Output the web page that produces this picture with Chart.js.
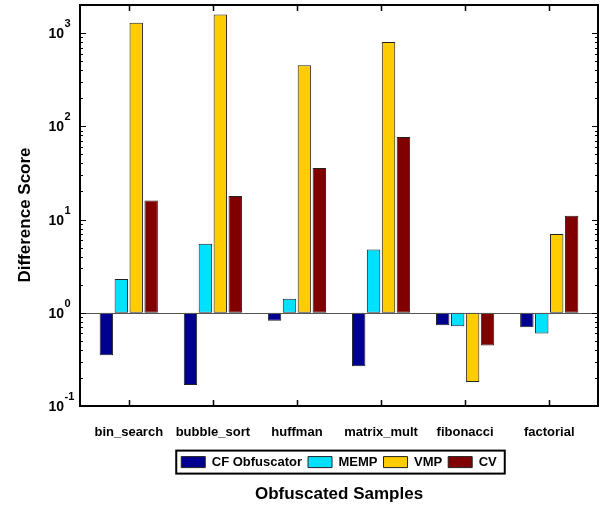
<!DOCTYPE html>
<html>
<head>
<meta charset="utf-8">
<script src="https://cdn.jsdelivr.net/npm/chart.js@4"></script>
<style>
  html, body { margin: 0; padding: 0; background: #fff; }
  #wrap { width: 605px; height: 508px; }
</style>
</head>
<body>
<div id="wrap"><canvas id="chart"></canvas></div>
<script>
const categories = ['bin_search', 'bubble_sort', 'huffman', 'matrix_mult', 'fibonacci', 'factorial'];
const cfObfuscator = [0.35, 0.168, 0.82, 0.267, 0.736, 0.70];
const memp = [2.3, 5.5, 1.41, 4.76, 0.718, 0.60];
const vmp = [1290, 1585, 453, 800, 0.181, 7.0];
const cv = [16, 17.9, 35.6, 76.7, 0.445, 11.0];
const yTickExponents = [-1, 0, 1, 2, 3];

const seriesNames = ['CF Obfuscator', 'MEMP', 'VMP', 'CV'];
const seriesValues = [cfObfuscator, memp, vmp, cv];
const seriesColors = ['#000090', '#00E0FF', '#FFCC00', '#800000'];

const FONT = '"Liberation Sans", Arial, sans-serif';

// frame, inward ticks, 10^n labels, y title, legend box
const axisDecor = {
  id: 'axisDecor',
  afterDraw(chart) {
    const { ctx, chartArea, scales } = chart;
    const { left, right, top, bottom } = chartArea;
    const x = scales.x, y = scales.y;
    ctx.save();

    // baseline at 10^0
    const y0 = y.getPixelForValue(1);
    ctx.strokeStyle = '#555';
    ctx.lineWidth = 1;
    ctx.beginPath();
    ctx.moveTo(left, Math.round(y0) + 0.5);
    ctx.lineTo(right, Math.round(y0) + 0.5);
    ctx.stroke();

    // y ticks, both sides
    ctx.strokeStyle = '#000';
    ctx.lineWidth = 1;
    yTickExponents.forEach(e => {
      for (let m = 1; m <= 9; m++) {
        const v = m * Math.pow(10, e);
        if (v > y.max) break;
        const py = Math.round(y.getPixelForValue(v)) + 0.5;
        const len = m === 1 ? 6 : 3;
        ctx.beginPath();
        ctx.moveTo(left, py); ctx.lineTo(left + len, py);
        ctx.moveTo(right, py); ctx.lineTo(right - len, py);
        ctx.stroke();
      }
    });

    // x ticks, top and bottom
    ctx.lineWidth = 1.5;
    categories.forEach((_, i) => {
      const px = Math.round(x.getPixelForValue(i)) + 0.5;
      ctx.beginPath();
      ctx.moveTo(px, bottom); ctx.lineTo(px, bottom - 6);
      ctx.moveTo(px, top); ctx.lineTo(px, top + 6);
      ctx.stroke();
    });

    // frame
    ctx.lineWidth = 2;
    ctx.strokeRect(left, top, right - left, bottom - top);

    // y tick labels
    ctx.fillStyle = '#000';
    yTickExponents.forEach(e => {
      const py = y.getPixelForValue(Math.pow(10, e));
      ctx.font = `bold 14px ${FONT}`;
      ctx.textAlign = 'right';
      ctx.textBaseline = 'alphabetic';
      ctx.fillText('10', 64, py + 5);
      ctx.font = `bold 11px ${FONT}`;
      ctx.textAlign = 'left';
      ctx.fillText(String(e), 64.5, py - 6);
    });

    // y axis title
    ctx.save();
    ctx.translate(25, 215);
    ctx.rotate(-Math.PI / 2);
    ctx.font = `bold 17px ${FONT}`;
    ctx.textAlign = 'center';
    ctx.textBaseline = 'middle';
    ctx.fillText('Difference Score', 0, 0);
    ctx.restore();

    // legend box
    const hb = chart.legend.legendHitBoxes;
    if (hb && hb.length) {
      const l = Math.min(...hb.map(b => b.left));
      const r = Math.max(...hb.map(b => b.left + b.width));
      const t = Math.min(...hb.map(b => b.top));
      const b = Math.max(...hb.map(b => b.top + b.height));
      ctx.lineWidth = 2;
      ctx.strokeRect(l - 5, t - 5, r - l + 13, b - t + 10);
    }
    ctx.restore();
  },
};

new Chart(document.getElementById('chart'), {
  type: 'bar',
  data: {
    datasets: seriesNames.map((name, k) => ({
      label: name,
      data: seriesValues[k].map((v, i) => ({ x: i, y: [1, v] })),
      backgroundColor: seriesColors[k],
      borderColor: '#222',
      borderWidth: 1,
      borderSkipped: false,
      categoryPercentage: 0.71,
      barPercentage: 0.9,
    })),
  },
  options: {
    responsive: true,
    maintainAspectRatio: false,
    animation: false,
    layout: { padding: { top: 5, right: 7, left: 0, bottom: 0 } },
    plugins: {
      legend: {
        position: 'bottom',
        fullSize: false,
        labels: {
          font: { family: FONT, size: 13, weight: 'bold' },
          color: '#000',
          boxWidth: 24,
          boxHeight: 11,
          padding: 6,
        },
      },
      title: {
        display: true,
        position: 'bottom',
        fullSize: false,
        text: 'Obfuscated Samples',
        font: { family: FONT, size: 17, weight: 'bold' },
        color: '#000',
        padding: { top: 6, bottom: 3 },
      },
      tooltip: { enabled: false },
    },
    scales: {
      x: {
        type: 'linear',
        offset: false,
        min: -0.58,
        max: 5.58,
        afterBuildTicks: s => { s.ticks = categories.map((_, i) => ({ value: i })); },
        afterFit: s => { s.height -= 10; },
        ticks: {
          callback: v => categories[v],
          font: { family: FONT, size: 13, weight: 'bold' },
          color: '#000',
          padding: 19,
          maxRotation: 0,
          autoSkip: false,
        },
        grid: { display: false, drawTicks: false },
        border: { display: false },
      },
      y: {
        type: 'logarithmic',
        min: 0.1,
        max: 2000,
        ticks: { display: false },
        grid: { display: false, drawTicks: false },
        border: { display: false },
        afterFit: s => { s.width = 80; },
      },
    },
  },
  plugins: [axisDecor],
});
</script>
</body>
</html>
